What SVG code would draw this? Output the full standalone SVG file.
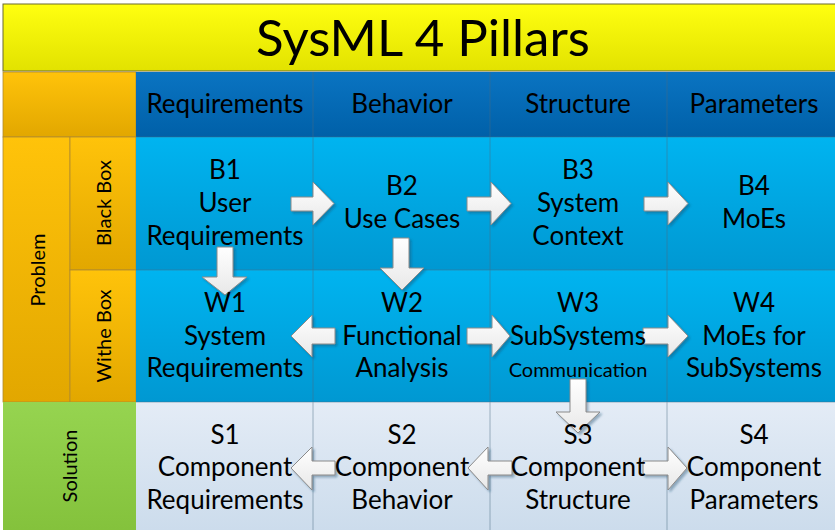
<svg xmlns="http://www.w3.org/2000/svg" width="835" height="530" viewBox="0 0 835 530">
<defs>
<linearGradient id="gY" x1="0" y1="0" x2="0" y2="1"><stop offset="0" stop-color="#FFFF10"/><stop offset="1" stop-color="#E2E200"/></linearGradient>
<linearGradient id="gO" x1="0" y1="0" x2="0" y2="1"><stop offset="0" stop-color="#FFC30A"/><stop offset="1" stop-color="#E2A700"/></linearGradient>
<linearGradient id="gH" x1="0" y1="0" x2="0" y2="1"><stop offset="0" stop-color="#0A74C2"/><stop offset="1" stop-color="#0060A8"/></linearGradient>
<linearGradient id="gC" x1="0" y1="0" x2="0" y2="1"><stop offset="0" stop-color="#00B4F0"/><stop offset="1" stop-color="#0098D2"/></linearGradient>
<linearGradient id="gG" x1="0" y1="0" x2="0" y2="1"><stop offset="0" stop-color="#96D450"/><stop offset="1" stop-color="#84C23C"/></linearGradient>
<linearGradient id="gL" x1="0" y1="0" x2="0" y2="1"><stop offset="0" stop-color="#E4ECF6"/><stop offset="1" stop-color="#CCDCEC"/></linearGradient>
<linearGradient id="gA" x1="0" y1="0" x2="0" y2="1"><stop offset="0" stop-color="#FFFFFF"/><stop offset="1" stop-color="#E8E8E8"/></linearGradient>
<filter id="sh" x="-20%" y="-20%" width="150%" height="150%"><feDropShadow dx="2" dy="2" stdDeviation="1" flood-color="#1a4a6a" flood-opacity="0.4"/></filter>
</defs>
<style>
.t{font-family:Lato,"Open Sans","Liberation Sans",sans-serif;fill:#000;text-anchor:middle}
.h{font-size:26px}
.c{font-size:26px}
.s{font-size:20px}
.grid{stroke:#4a6a80;stroke-width:0.8;fill:none;opacity:0.6}
.arr{fill:url(#gA);stroke:#8a8a8a;stroke-width:1;filter:url(#sh)}
</style>
<rect width="835" height="530" fill="#fff"/>
<g id="title">
<rect x="3" y="4" width="833" height="67" fill="url(#gY)" stroke="#6b6b30" stroke-width="1"/>
<text class="t" x="423" y="56" font-size="51">SysML 4 Pillars</text>
</g>
<g id="corner"><rect x="3" y="72" width="133" height="65" fill="url(#gO)" stroke="#b08a30" stroke-width="0.8"/></g>
<g id="hdr">
<rect x="136" y="72" width="699" height="65" fill="url(#gH)"/>
<text class="t h" x="225" y="113">Requirements</text>
<text class="t h" x="402" y="113">Behavior</text>
<text class="t h" x="578" y="113">Structure</text>
<text class="t h" x="754" y="113">Parameters</text>
</g>
<g id="problem">
<rect x="3" y="137" width="67" height="265" fill="url(#gO)" stroke="#b08a30" stroke-width="0.8"/>
<text class="t s" transform="translate(45 270) rotate(-90)">Problem</text>
</g>
<g id="blackbox">
<rect x="70" y="137" width="66" height="133" fill="url(#gO)" stroke="#b08a30" stroke-width="0.8"/>
<text class="t s" transform="translate(111 203) rotate(-90)">Black Box</text>
</g>
<g id="withebox">
<rect x="70" y="270" width="66" height="132" fill="url(#gO)" stroke="#b08a30" stroke-width="0.8"/>
<text class="t s" transform="translate(111 336) rotate(-90)">Withe Box</text>
</g>
<g id="solution">
<rect x="3" y="402" width="133" height="128" fill="url(#gG)"/>
<text class="t s" transform="translate(77 466) rotate(-90)">Solution</text>
</g>
<g id="rowB"><rect x="136" y="137" width="699" height="133" fill="url(#gC)"/></g>
<g id="rowW"><rect x="136" y="270" width="699" height="132" fill="url(#gC)"/></g>
<g id="rowS"><rect x="136" y="402" width="699" height="128" fill="url(#gL)"/></g>
<g id="gridlines" class="grid">
<line x1="313" y1="72" x2="313" y2="530"/>
<line x1="490" y1="72" x2="490" y2="530"/>
<line x1="667" y1="72" x2="667" y2="530"/>
<line x1="136" y1="270" x2="835" y2="270"/>
<line x1="136" y1="402" x2="835" y2="402"/>
<line x1="136" y1="137" x2="835" y2="137"/>
</g>
<g id="B1"><text class="t c" x="225" y="179">B1</text><text class="t c" x="225" y="212">User</text><text class="t c" x="225" y="245">Requirements</text></g>
<g id="B2"><text class="t c" x="402" y="195">B2</text><text class="t c" x="402" y="228">Use Cases</text></g>
<g id="B3"><text class="t c" x="578" y="179">B3</text><text class="t c" x="578" y="212">System</text><text class="t c" x="578" y="245">Context</text></g>
<g id="B4"><text class="t c" x="754" y="195">B4</text><text class="t c" x="754" y="228">MoEs</text></g>
<g id="connectors">
<path class="arr" d="M291 197H313V182L334 203.5L313 225V211H291Z"/>
<path class="arr" d="M467 197H491V182L511 203.5L491 225V211H467Z"/>
<path class="arr" d="M644 197H668V182L688 203.5L668 225V211H644Z"/>
<path class="arr" d="M217 247H233V277H247L225 295L202 277H217Z"/>
<path class="arr" d="M393 238H409V268H424L402 290L380 268H393Z"/>
<path class="arr" d="M335 328H312V315L291 336L312 357V344H335Z"/>
<path class="arr" d="M467 328H492V315L510 336L492 357V344H467Z"/>
<path class="arr" d="M643 328H668V315L688 336L668 357V344H643Z"/>
<path class="arr" d="M570 379H586V412H600L578 433L556 412H570Z"/>
<path class="arr" d="M335 461H312V447L291 468L312 490V475H335Z"/>
<path class="arr" d="M512 461H488V447L468 468L488 490V475H512Z"/>
<path class="arr" d="M643 461H668V447L687 468L668 490V475H643Z"/>
</g>
<g id="W1"><text class="t c" x="225" y="312">W1</text><text class="t c" x="225" y="345">System</text><text class="t c" x="225" y="377">Requirements</text></g>
<g id="W2"><text class="t c" x="402" y="312">W2</text><text class="t c" x="402" y="345">Functional</text><text class="t c" x="402" y="377">Analysis</text></g>
<g id="W3"><text class="t c" x="578" y="312">W3</text><text class="t c" x="578" y="345">SubSystems</text><text class="t s" x="578" y="377">Communication</text></g>
<g id="W4"><text class="t c" x="754" y="312">W4</text><text class="t c" x="754" y="345">MoEs for</text><text class="t c" x="754" y="377">SubSystems</text></g>
<g id="S1"><text class="t c" x="225" y="444">S1</text><text class="t c" x="225" y="476">Component</text><text class="t c" x="225" y="509">Requirements</text></g>
<g id="S2"><text class="t c" x="402" y="444">S2</text><text class="t c" x="402" y="476">Component</text><text class="t c" x="402" y="509">Behavior</text></g>
<g id="S3"><text class="t c" x="578" y="444">S3</text><text class="t c" x="578" y="476">Component</text><text class="t c" x="578" y="509">Structure</text></g>
<g id="S4"><text class="t c" x="754" y="444">S4</text><text class="t c" x="754" y="476">Component</text><text class="t c" x="754" y="509">Parameters</text></g>
</svg>
